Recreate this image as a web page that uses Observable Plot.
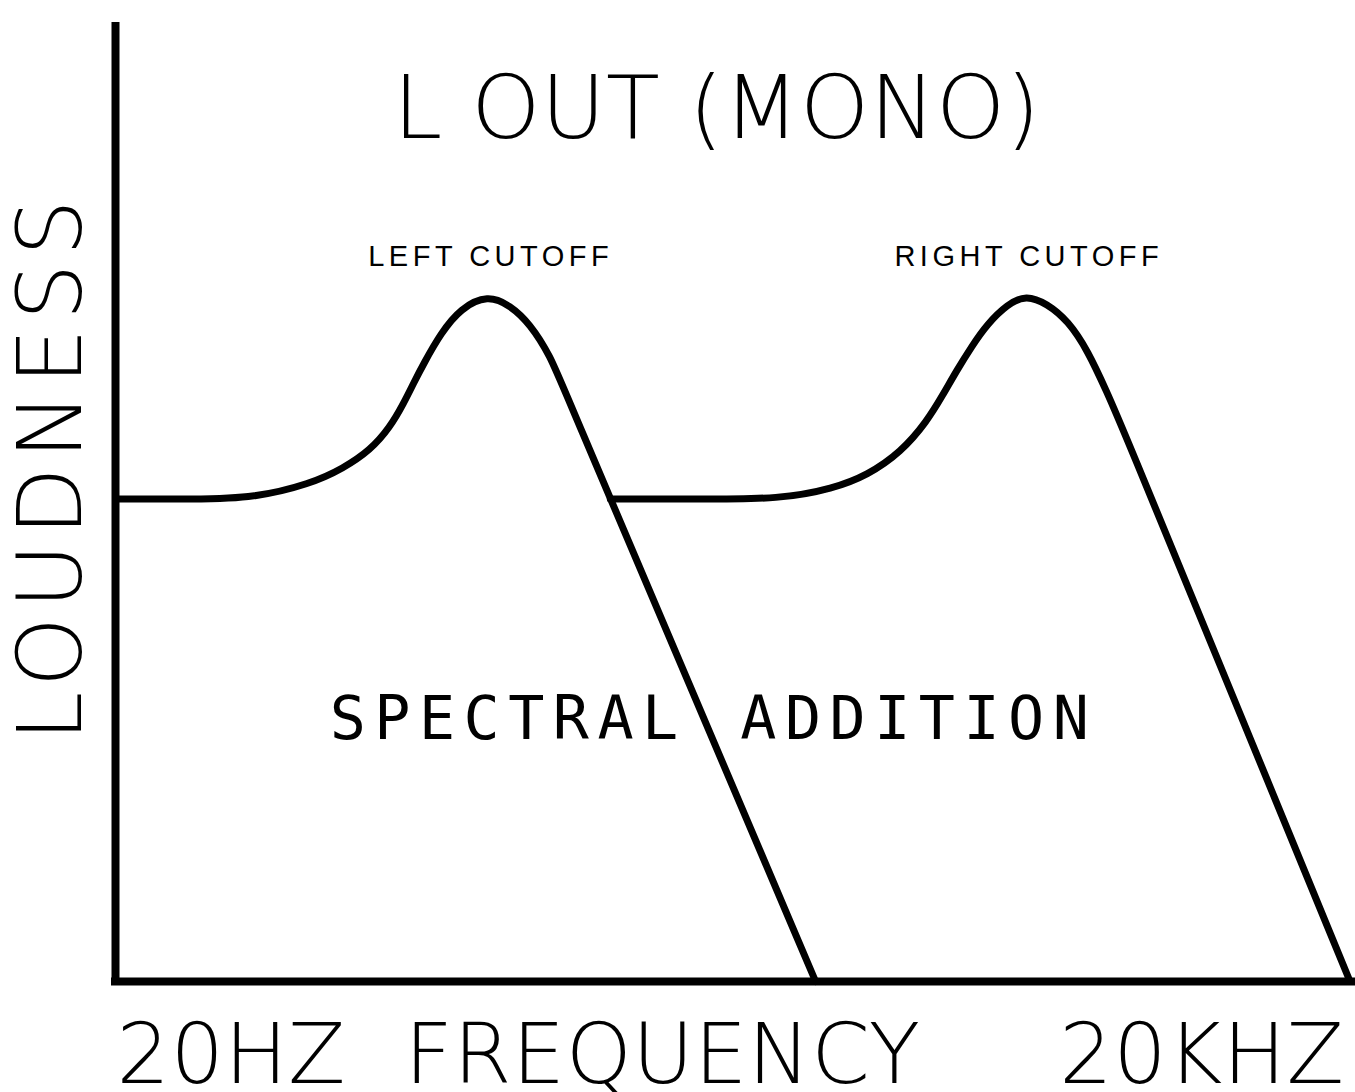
<!DOCTYPE html>
<html>
<head>
<meta charset="utf-8">
<script src="https://cdn.jsdelivr.net/npm/d3@7"></script>
<script src="https://cdn.jsdelivr.net/npm/@observablehq/plot@0.6"></script>
<style>
  html, body { margin: 0; padding: 0; background: #fff; overflow: hidden; }
</style>
</head>
<body>
<div id="chart"></div>
<script>
// Curve 1: left cutoff (frequency 0..100, loudness 0..100)
const freq1 = [0, 5, 10.9, 15.8, 18.4, 20.6, 22.2, 23.3, 24.1, 24.9, 26.3, 27.9, 30.1, 31.9, 33.5, 35.2, 36.2, 46.4, 56.6];
const loud1 = [50.3, 50.3, 50.3, 51.9, 53.5, 55.4, 57.8, 60.3, 62.4, 64.4, 67.6, 70.2, 71.6, 70.5, 68.6, 65.1, 61.9, 30.95, 0];
// Curve 2: right cutoff
const freq2 = [40.0, 47, 53.8, 58.0, 60.8, 63.5, 65.6, 66.9, 68.0, 69.2, 70.5, 72.1, 73.6, 75.3, 77.0, 78.6, 80.2, 81.2, 90.5, 99.8];
const loud2 = [50.3, 50.3, 50.3, 51.4, 52.8, 55.2, 58.4, 61.2, 63.7, 66.2, 68.6, 70.6, 71.6, 70.7, 68.9, 65.8, 61.3, 58.4, 29.2, 0];

// Axis extents
const freqDomain = [0, 100];
const loudDomain = [0, 100];

// Texts
const titleText = ["L OUT (MONO)"];
const titleX = [48.6];
const titleY = [90.9];

const cutoffText = ["LEFT CUTOFF", "RIGHT CUTOFF"];
const cutoffX = [30.15, 73.65];
const cutoffY = [75.6, 75.6];

const regionText = ["SPECTRAL", "ADDITION"];
const regionX = [31.4, 64.6];
const regionY = [27.3, 27.3];

const yLabel = ["LOUDNESS"];
const yLabelX = [-5.13];
const yLabelY = [53.3];

const xTickText = ["20HZ", "FREQUENCY", "20KHZ"];
const xTickX = [9.34, 44.2, 87.8];
const xTickY = [-7.8, -7.8, -7.8];

const series1 = freq1.map((f, i) => ({f, l: loud1[i]}));
const series2 = freq2.map((f, i) => ({f, l: loud2[i]}));
const mk = (t, xs, ys) => t.map((s, i) => ({s, x: xs[i], y: ys[i]}));

const thin = "DejaVu Sans";

const chart = Plot.plot({
  width: 1355,
  height: 1092,
  marginLeft: 115,
  marginRight: 3,
  marginTop: 22,
  marginBottom: 111,
  style: {background: "white", color: "black"},
  x: {domain: freqDomain, axis: null},
  y: {domain: loudDomain, axis: null},
  marks: [
    Plot.ruleX([freqDomain[0]], {y1: loudDomain[0], y2: loudDomain[1], stroke: "black", strokeWidth: 8}),
    Plot.ruleY([loudDomain[0]], {x1: freqDomain[0], x2: freqDomain[1], stroke: "black", strokeWidth: 8, strokeLinecap: "square"}),
    Plot.line(series1, {x: "f", y: "l", curve: "basis", stroke: "black", strokeWidth: 7, strokeLinejoin: "round"}),
    Plot.line(series2, {x: "f", y: "l", curve: "basis", stroke: "black", strokeWidth: 7, strokeLinejoin: "round"}),
    Plot.text(mk(titleText, titleX, titleY), {x: "x", y: "y", text: "s", fontSize: 88, fontWeight: 200, fontFamily: thin, fill: "black", lineAnchor: "middle"}),
    Plot.text(mk(cutoffText, cutoffX, cutoffY), {x: "x", y: "y", text: "s", fontSize: 29, fontFamily: "Liberation Sans", fill: "black", lineAnchor: "middle"}),
    Plot.text(mk(regionText, regionX, regionY), {x: "x", y: "y", text: "s", fontSize: 60, fontFamily: "DejaVu Sans Mono", fill: "black", lineAnchor: "middle"}),
    Plot.text(mk(yLabel, yLabelX, yLabelY), {x: "x", y: "y", text: "s", rotate: -90, fontSize: 89, fontWeight: 200, fontFamily: thin, fill: "black", lineAnchor: "middle"}),
    Plot.text(mk(xTickText, xTickX, xTickY), {x: "x", y: "y", text: "s", fontSize: 84, fontWeight: 200, fontFamily: thin, fill: "black", lineAnchor: "middle"})
  ]
});

// letter spacing per label group (applied after render)
const spacing = new Map([
  ...titleText.map(t => [t, 0.5]),
  ...cutoffText.map(t => [t, 4.5]),
  ...regionText.map(t => [t, 8.5]),
  ...yLabel.map(t => [t, 8]),
  ...xTickText.map(t => [t, 0.5])
]);
d3.select(chart).selectAll("text").each(function () {
  const ls = spacing.get(this.textContent);
  if (ls) d3.select(this).style("letter-spacing", ls + "px").attr("dx", ls / 2);
});

document.getElementById("chart").appendChild(chart);
</script>
</body>
</html>
